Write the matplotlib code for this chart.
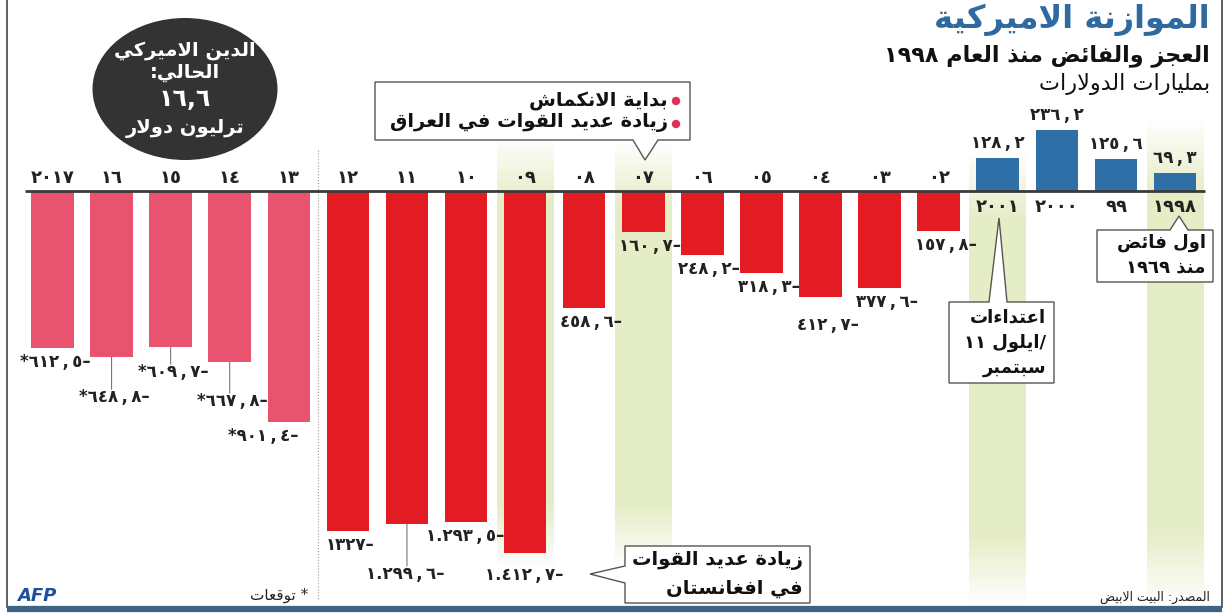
import re
import numpy as np
import matplotlib
matplotlib.use("Agg")
import matplotlib.pyplot as plt
from matplotlib.patches import Ellipse, Polygon, Circle

plt.rcParams['font.family'] = ['DejaVu Sans']

# data (chronological, 1998 is drawn at the right end)
years = list(range(1998, 2018))
balance = [69.3, 125.6, 236.2, 128.2, -157.8, -377.6, -412.7, -318.3, -248.2,
           -160.7, -458.6, -1412.7, -1293.5, -1299.6, -1327.0, -901.4, -667.8,
           -609.7, -648.8, -612.5]
projected = [y >= 2013 for y in years]
year_labels = ["١٩٩٨", "٩٩", "٢٠٠٠", "٢٠٠١", "٠٢", "٠٣", "٠٤", "٠٥", "٠٦", "٠٧",
               "٠٨", "٠٩", "١٠", "١١", "١٢", "١٣", "١٤", "١٥", "١٦", "٢٠١٧"]
highlight_years = [1998, 2001, 2007, 2009]

# label placement (pixels) for the deficit values
label_drop = {2004: 28, 2009: 22, 2011: 50, 2014: 39, 2015: 25, 2016: 40}
label_dx = {2013: 10, 2012: 27}
leader_years = [2011, 2014, 2015, 2016]

RED, PINK, BLUE = "#e31b23", "#e8546f", "#2f6fa8"

# --- minimal arabic shaping (matplotlib has no text shaping) ---
FORMS = {
    'ء': (0xFE80, 0), 'آ': (0xFE81, 1), 'أ': (0xFE83, 1), 'ؤ': (0xFE85, 1),
    'إ': (0xFE87, 1), 'ئ': (0xFE89, 2), 'ا': (0xFE8D, 1), 'ب': (0xFE8F, 2),
    'ة': (0xFE93, 1), 'ت': (0xFE95, 2), 'ث': (0xFE99, 2), 'ج': (0xFE9D, 2),
    'ح': (0xFEA1, 2), 'خ': (0xFEA5, 2), 'د': (0xFEA9, 1), 'ذ': (0xFEAB, 1),
    'ر': (0xFEAD, 1), 'ز': (0xFEAF, 1), 'س': (0xFEB1, 2), 'ش': (0xFEB5, 2),
    'ص': (0xFEB9, 2), 'ض': (0xFEBD, 2), 'ط': (0xFEC1, 2), 'ظ': (0xFEC5, 2),
    'ع': (0xFEC9, 2), 'غ': (0xFECD, 2), 'ف': (0xFED1, 2), 'ق': (0xFED5, 2),
    'ك': (0xFED9, 2), 'ل': (0xFEDD, 2), 'م': (0xFEE1, 2), 'ن': (0xFEE5, 2),
    'ه': (0xFEE9, 2), 'و': (0xFEED, 1), 'ى': (0xFEEF, 1), 'ي': (0xFEF1, 2),
}
LAM_ALEF = {'آ': 0xFEF5, 'أ': 0xFEF7, 'إ': 0xFEF9, 'ا': 0xFEFB}
NUM_RE = r'[0-9\u0660-\u0669]+(?:[.,][0-9\u0660-\u0669]+)*'


def shape(text):
    items = []
    i = 0
    while i < len(text):
        c = text[i]
        if c == 'ل' and i + 1 < len(text) and text[i + 1] in LAM_ALEF:
            items.append((LAM_ALEF[text[i + 1]], 1))
            i += 2
        else:
            items.append(FORMS.get(c, c))
            i += 1
    out = []
    for k, it in enumerate(items):
        if isinstance(it, str):
            out.append(it)
            continue
        base, kind = it
        prev = items[k - 1] if k > 0 else None
        nxt = items[k + 1] if k + 1 < len(items) else None
        jp = kind > 0 and isinstance(prev, tuple) and prev[1] == 2
        jn = kind == 2 and isinstance(nxt, tuple) and nxt[1] > 0
        out.append(chr(base + (3 if jp and jn else 1 if jp else 2 if jn else 0)))
    return ''.join(out)


def ar(text):
    rev = shape(text)[::-1]
    return re.sub(NUM_RE, lambda m: m.group(0)[::-1], rev)


DIGITS = str.maketrans("0123456789", "٠١٢٣٤٥٦٧٨٩")


def fmt(v, proj):
    a = abs(v)
    if a == int(a):
        s = f"{int(a)}"
    else:
        s = f"{a:,.1f}".replace(",", "_").replace(".", "\u2009,\u2009").replace("_", ".")
    s = s.translate(DIGITS)
    if v < 0:
        s += "–"
    if proj:
        s = "*" + s
    return s


fig = plt.figure(figsize=(12.3, 6.16), dpi=100)
ax = fig.add_axes([0, 0, 1, 1])
ax.axis('off')

PX = 0.2562  # pixels per billion


def py(p):  # pixel row -> data value
    return (191 - p) / PX


x = np.arange(len(years))
colors = [BLUE if v > 0 else (PINK if p else RED) for v, p in zip(balance, projected)]

# highlight bands
band_rgb = np.array([0.90, 0.93, 0.78])
band_span = {1998: (118, 605), 2001: (150, 605), 2007: (140, 570), 2009: (135, 570)}
for yr in highlight_years:
    i = years.index(yr)
    top, bot = band_span[yr]
    n = 200
    t = np.linspace(0, 1, n)
    alpha = np.clip(np.minimum(t / 0.15, (1 - t) / 0.15), 0, 1)
    img = np.zeros((n, 1, 4))
    img[:, 0, :3] = band_rgb
    img[:, 0, 3] = alpha
    ax.imshow(img, extent=(i - 0.48, i + 0.48, py(bot), py(top)),
              aspect='auto', zorder=0, interpolation='bilinear')

ax.bar(x, balance, width=0.72, color=colors, zorder=2)
ax.hlines(0, -0.5, 19.47, color='#3a3a3a', lw=2, zorder=3)

# projection divider
ax.plot([14.5, 14.5], [py(150), py(600)], color='#999999', lw=0.8, ls=':', zorder=1)

for i, (yr, v, p, yl) in enumerate(zip(years, balance, projected, year_labels)):
    lbl = fmt(v, p)
    if v > 0:
        ax.annotate(yl, xy=(i, 0), xytext=(0, -16), textcoords='offset pixels',
                    ha='center', va='center', fontsize=13, fontweight='bold', color='#222222')
        ax.annotate(lbl, xy=(i, v), xytext=(0, 6), textcoords='offset pixels',
                    ha='center', va='bottom', fontsize=12, fontweight='bold', color='#222222')
    else:
        ax.annotate(yl, xy=(i, 0), xytext=(0, 13), textcoords='offset pixels',
                    ha='center', va='center', fontsize=13, fontweight='bold', color='#222222')
        drop = label_drop.get(yr, 14)
        dx = label_dx.get(yr, 38)
        ax.annotate(lbl, xy=(i, v), xytext=(dx, -drop), textcoords='offset pixels',
                    ha='right', va='center', fontsize=12, fontweight='bold', color='#222222')
        if yr in leader_years:
            ax.annotate('', xy=(i, v), xytext=(0, -(drop - 8)), textcoords='offset pixels',
                        arrowprops=dict(arrowstyle='-', color='#777777', lw=0.8,
                                        shrinkA=0, shrinkB=0))

ax.set_xlim(19.888, -0.931)
ax.set_ylim(py(616), py(0))

# overlay in pixel coordinates for the infographic furniture
ov = fig.add_axes([0, 0, 1, 1])
ov.set_xlim(0, 1230)
ov.set_ylim(616, 0)
ov.axis('off')
ov.patch.set_alpha(0)

# frame
ov.plot([7, 7], [0, 607], color='#444444', lw=1.2)
ov.plot([1222, 1222], [0, 607], color='#444444', lw=1.2)
ov.plot([7, 1222], [609, 609], color='#3d6485', lw=4.5, solid_capstyle='butt')

# titles
ov.text(1210, 20, ar("الموازنة الاميركية"), ha='right', va='center',
        fontsize=23, fontweight='bold', color='#2e6aa0')
ov.text(1210, 56, ar("العجز والفائض منذ العام ١٩٩٨"), ha='right', va='center',
        fontsize=16, fontweight='bold', color='#111111')
ov.text(1210, 84, ar("بمليارات الدولارات"), ha='right', va='center',
        fontsize=16, color='#111111')

# debt bubble
ov.add_patch(Ellipse((185, 89), 185, 142, facecolor='#333333', edgecolor='none'))
for txt, yy, fs in [("الدين الاميركي", 50, 14), ("الحالي:", 72, 14),
                    ("١٦,٦", 99, 17), ("ترليون دولار", 128, 14)]:
    ov.text(185, yy, ar(txt), ha='center', va='center', fontsize=fs,
            fontweight='bold', color='white')


def callout(pts, lines, xr, y0, dy, fs=13, bullets=False):
    ov.add_patch(Polygon(pts, closed=True, facecolor='white', edgecolor='#555555',
                         lw=1, zorder=5))
    for k, ln in enumerate(lines):
        yy = y0 + k * dy
        ov.text(xr, yy, ln, ha='right', va='center', fontsize=fs,
                fontweight='bold', color='#111111', zorder=6)
        if bullets:
            ov.add_patch(Circle((xr + 8, yy + 1), 3.5, color='#e0305a', zorder=6))


callout([(375, 82), (690, 82), (690, 140), (658, 140), (645, 160), (633, 140), (375, 140)],
        [ar("بداية الانكماش"), ar("زيادة عديد القوات في العراق")],
        668, 100, 23, fs=14, bullets=True)
callout([(949, 302), (989, 302), (999, 218), (1007, 302), (1054, 302), (1054, 383), (949, 383)],
        [ar("اعتداءات"), "١١ " + ar("ايلول") + "/", ar("سبتمبر")],
        1046, 318, 25, fs=13)
callout([(1097, 230), (1170, 230), (1179, 216), (1188, 230), (1213, 230), (1213, 282), (1097, 282)],
        [ar("اول فائض"), ar("منذ ١٩٦٩")],
        1206, 243, 25, fs=13)
callout([(625, 546), (810, 546), (810, 603), (625, 603), (625, 583), (590, 574), (625, 566)],
        [ar("زيادة عديد القوات"), ar("في افغانستان")],
        803, 560, 28, fs=14)

# footer
ov.text(17, 596, "AFP", ha='left', va='center', fontsize=13, fontweight='bold',
        fontstyle='italic', color='#1d4f9c')
ov.text(308, 595, ar("* توقعات"), ha='right', va='center', fontsize=11, color='#222222')
ov.text(1210, 597, ar("المصدر: البيت الابيض"), ha='right', va='center', fontsize=9,
        color='#222222')

fig.savefig("out.png", dpi=100, facecolor='white')
